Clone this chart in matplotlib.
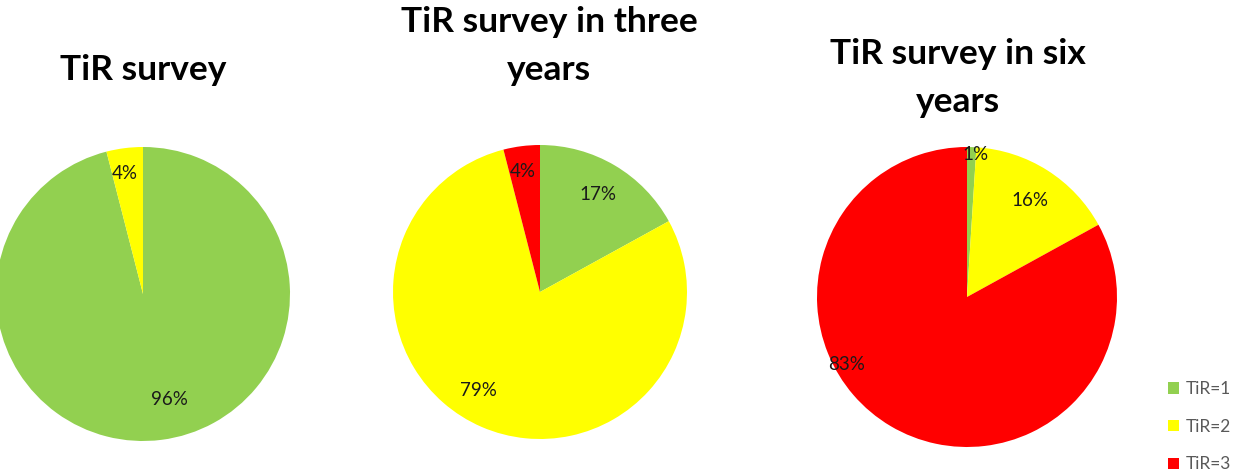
import numpy as np
import matplotlib.pyplot as plt

plt.rcParams['font.family'] = ['Lato', 'DejaVu Sans']

# --- DATA ---
categories = ["TiR=1", "TiR=2", "TiR=3"]
colors = ["#92D050", "#FFFF00", "#FF0000"]
titles = ["TiR survey", "TiR survey in three\nyears", "TiR survey in six\nyears"]

survey_now = [96, 4, 0]
survey_three = [17, 79, 4]
survey_six = [1, 16, 83]

# --- LAYOUT (pixels, figure is 1236x473) ---
W, H = 1236, 473
pie_boxes = [(143, 294, 147), (540, 292, 147), (967, 297, 150)]  # cx, cy, r
title_pos = [(143, 80), (549, 80), (958, 112)]  # centre x, last baseline
# where the % label sits: fraction along the wedge, fraction of radius
label_frac = [[0.48, 0.41, 0.5], [0.5, 0.53, 0.44], [0.9, 0.51, 0.6]]
label_rad = [[0.74, 0.83, 0.8], [0.77, 0.79, 0.83], [0.95, 0.77, 0.92]]

fig = plt.figure(figsize=(W / 100, H / 100), dpi=100)

wedges_for_legend = None
for i, vals in enumerate([survey_now, survey_three, survey_six]):
    cx, cy, r = pie_boxes[i]
    ax = fig.add_axes([(cx - r) / W, (H - cy - r) / H, 2 * r / W, 2 * r / H])
    keep = [k for k, v in enumerate(vals) if v > 0]
    v = [vals[k] for k in keep]
    wedges, _ = ax.pie(v, colors=[colors[k] for k in keep], startangle=90,
                       counterclock=False, radius=1,
                       wedgeprops=dict(linewidth=0))
    ax.set_xlim(-1, 1)
    ax.set_ylim(-1, 1)
    ax.set_aspect('equal')
    ax.axis('off')

    total = float(sum(v))
    cum = 0.0
    for j, k in enumerate(keep):
        a0 = 90 - 360 * cum / total
        a1 = 90 - 360 * (cum + v[j]) / total
        cum += v[j]
        ang = np.deg2rad(a0 + label_frac[i][k] * (a1 - a0))
        rr = label_rad[i][k]
        ax.text(rr * np.cos(ang), rr * np.sin(ang), f"{vals[k]}%",
                ha='center', va='center', fontsize=13.5, color='#1a1a1a')

    tx, ty = title_pos[i]
    fig.text(tx / W, 1 - ty / H, titles[i], ha='center', va='baseline',
             fontsize=25.5, fontweight='bold', linespacing=1.6, color='black')

    if len(keep) == 3:
        wedges_for_legend = wedges

fig.legend(wedges_for_legend, categories, loc='upper left',
           bbox_to_anchor=(1168 / W, 1 - 381 / H), frameon=False,
           borderpad=0, borderaxespad=0,
           fontsize=12.5, labelcolor='#595959', handlelength=0.65,
           handleheight=0.65, handletextpad=0.4, labelspacing=1.25)

fig.savefig("out.png", dpi=100, facecolor='white')
